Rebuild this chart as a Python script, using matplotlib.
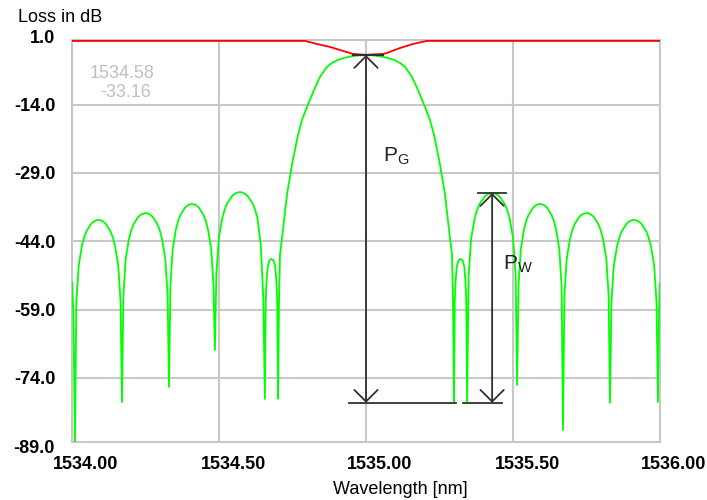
import matplotlib
matplotlib.use("Agg")
import matplotlib.pyplot as plt
import matplotlib.transforms as mtransforms
import numpy as np

# measured transmission spectrum (green), wavelength in nm, loss in dB
wavelength_nm = [
    1534.000, 1534.005, 1534.010,
    1534.0148, 1534.0228, 1534.034, 1534.042, 1534.050, 1534.066, 1534.0772, 1534.090,
    1534.1028, 1534.114, 1534.130, 1534.138, 1534.146, 1534.1572, 1534.1652,
    1534.170,
    1534.1748, 1534.1828, 1534.194, 1534.202, 1534.210, 1534.226, 1534.2372, 1534.250,
    1534.2628, 1534.274, 1534.290, 1534.298, 1534.306, 1534.3172, 1534.3252,
    1534.330,
    1534.3347, 1534.3425, 1534.3534, 1534.3612, 1534.369, 1534.3846, 1534.3955, 1534.408,
    1534.4205, 1534.4314, 1534.447, 1534.4548, 1534.4626, 1534.4735, 1534.4813,
    1534.486,
    1534.4911, 1534.4996, 1534.5115, 1534.520, 1534.5285, 1534.5455, 1534.5574, 1534.571,
    1534.5846, 1534.5965, 1534.6135, 1534.622, 1534.6305, 1534.6424, 1534.6509,
    1534.656,
    1534.659, 1534.662, 1534.666, 1534.6715, 1534.6785, 1534.6855, 1534.691, 1534.695, 1534.698,
    1534.701,
    1534.704, 1534.7074, 1534.7176, 1534.7312, 1534.7482, 1534.7686, 1534.7822, 1534.7993,
    1534.8231, 1534.8435, 1534.8673, 1534.8843, 1534.9047, 1534.9251, 1534.949, 1534.9728,
    1535.000,
    1535.0272, 1535.051, 1535.0749, 1535.0953, 1535.1157, 1535.1327, 1535.1565, 1535.1769,
    1535.2007, 1535.2178, 1535.2314, 1535.2518, 1535.2688, 1535.2824, 1535.2926, 1535.296,
    1535.299,
    1535.302, 1535.305, 1535.309, 1535.3145, 1535.3215, 1535.3285, 1535.334, 1535.338, 1535.341,
    1535.344,
    1535.3491, 1535.3576, 1535.3695, 1535.378, 1535.3865, 1535.4035, 1535.4154, 1535.429,
    1535.4426, 1535.4545, 1535.4715, 1535.480, 1535.4885, 1535.5004, 1535.5089,
    1535.514,
    1535.5187, 1535.5265, 1535.5374, 1535.5452, 1535.553, 1535.5686, 1535.5795, 1535.592,
    1535.6045, 1535.6154, 1535.631, 1535.6388, 1535.6466, 1535.6575, 1535.6653,
    1535.670,
    1535.6748, 1535.6828, 1535.694, 1535.702, 1535.710, 1535.726, 1535.7372, 1535.750,
    1535.7628, 1535.774, 1535.790, 1535.798, 1535.806, 1535.8172, 1535.8252,
    1535.830,
    1535.8349, 1535.843, 1535.8545, 1535.8626, 1535.8708, 1535.887, 1535.8985, 1535.9115,
    1535.9245, 1535.936, 1535.9523, 1535.9604, 1535.9686, 1535.980, 1535.9881,
    1535.993,
    1535.9965, 1536.000,
]
loss_db = [
    -53.0, -60.0, -88.5,
    -57.3, -49.3, -44.9, -43.0, -41.7, -40.1, -39.52, -39.3,
    -39.52, -40.1, -41.7, -43.0, -44.9, -49.3, -57.3,
    -79.3,
    -55.8, -47.8, -43.4, -41.5, -40.2, -38.6, -38.02, -37.8,
    -38.02, -38.6, -40.2, -41.5, -43.4, -47.8, -55.8,
    -76.0,
    -53.8, -45.8, -41.4, -39.5, -38.2, -36.6, -36.02, -35.8,
    -36.02, -36.6, -38.2, -39.5, -41.4, -45.8, -53.8,
    -67.9,
    -51.2, -43.2, -38.8, -36.9, -35.6, -34.0, -33.42, -33.2,
    -33.42, -34.0, -35.6, -36.9, -38.8, -45.0, -57.0,
    -78.6,
    -57.0, -52.5, -49.5, -48.2, -47.9, -48.2, -49.5, -52.5, -57.0,
    -78.6,
    -57.5, -47.0, -41.5, -33.8, -27.2, -20.65, -17.4, -14.5,
    -10.8, -7.9, -5.7, -4.84, -4.18, -3.74, -3.41, -3.17,
    -3.08,
    -3.17, -3.41, -3.74, -4.18, -4.84, -5.7, -7.9, -10.8,
    -14.5, -17.4, -20.65, -27.2, -33.8, -41.5, -47.0, -57.5,
    -79.3,
    -57.0, -52.5, -49.5, -48.2, -47.9, -48.2, -49.5, -52.5, -57.0,
    -79.3,
    -51.4, -43.4, -39.0, -37.1, -35.8, -34.2, -33.62, -33.4,
    -33.62, -34.2, -35.8, -37.1, -39.0, -43.4, -51.4,
    -75.6,
    -53.8, -45.8, -41.4, -39.5, -38.2, -36.6, -36.02, -35.8,
    -36.02, -36.6, -38.2, -39.5, -41.4, -45.8, -53.8,
    -85.5,
    -55.8, -47.8, -43.4, -41.5, -40.2, -38.6, -38.02, -37.8,
    -38.02, -38.6, -40.2, -41.5, -43.4, -47.8, -55.8,
    -79.5,
    -57.3, -49.3, -44.9, -43.0, -41.7, -40.1, -39.52, -39.3,
    -39.52, -40.1, -41.7, -43.0, -44.9, -49.3, -57.3,
    -79.3,
    -60.0, -53.2,
]

# reference trace (red)
ref_wavelength_nm = [1534.0, 1534.793, 1534.833, 1534.878, 1534.922, 1534.956, 1535.0,
                     1535.058, 1535.071, 1535.116, 1535.160, 1535.207, 1536.0]
ref_loss_db = [0.0, 0.0, -0.67, -1.33, -2.21, -2.86, -3.08,
               -2.86, -2.65, -1.55, -0.67, 0.0, 0.0]

x_ticks = [1534.0, 1534.5, 1535.0, 1535.5, 1536.0]
x_tick_labels = ["1534.00", "1534.50", "1535.00", "1535.50", "1536.00"]
y_ticks = [1.0, -14.0, -29.0, -44.0, -59.0, -74.0, -89.0]
y_tick_labels = ["1.0", "-14.0", "-29.0", "-44.0", "-59.0", "-74.0", "-89.0"]
floor_db = -79.5   # common bottom level of both markers
cursor_text = ["1534.58", "-33.16"]

plt.rcParams['font.family'] = ['Liberation Sans', 'DejaVu Sans']
plt.rcParams['mathtext.fontset'] = 'custom'
plt.rcParams['mathtext.rm'] = 'Open Sans'

fig = plt.figure(figsize=(7.07, 5.0), dpi=100)
ax = fig.add_axes([72 / 707, 1 - 442 / 500, 588 / 707, 402 / 500])

ax.plot(wavelength_nm, loss_db, color='#00ff00', lw=1.3, zorder=3)
ax.plot(ref_wavelength_nm, ref_loss_db, color='#ff0000', lw=1.3, zorder=4)

ax.set_xlim(1534.0, 1536.0)
ax.set_ylim(-88.1, 0.2)

grid_c = '#c8c8c8'
for s in ax.spines.values():
    s.set_color(grid_c)
    s.set_linewidth(1.5)
ax.set_xticks(x_ticks)
ax.set_xticklabels(x_tick_labels, fontsize=13, fontweight='bold')
inner = [t for t in y_ticks if -88.1 < t < 0.2]
ax.set_yticks(inner)
ax.set_yticklabels([y_tick_labels[y_ticks.index(t)] for t in inner], fontsize=13, fontweight='bold')
ax.tick_params(axis='both', length=0)
ax.tick_params(axis='y', pad=12)
ax.tick_params(axis='x', pad=10)
ax.grid(True, color=grid_c, lw=1.5, zorder=0)

# labels are offset to the right of their grid lines in the original
shift = mtransforms.ScaledTranslation(14 / 100, 0, fig.dpi_scale_trans)
for lab in ax.get_xticklabels():
    lab.set_transform(lab.get_transform() + shift)

# end labels sit just outside the drawn range
down = mtransforms.ScaledTranslation(0, -2 / 100, fig.dpi_scale_trans)
ylab_tr = mtransforms.blended_transform_factory(ax.transAxes, ax.transData) + down
for t in (y_ticks[0], y_ticks[-1]):
    ax.text(-17 / 588, t, y_tick_labels[y_ticks.index(t)], transform=ylab_tr, ha='right', va='center',
            fontsize=13, fontweight='bold', clip_on=False)

fig.text(18 / 707, 1 - 17 / 500, "Loss in dB", fontsize=13, ha='left', va='center')
fig.text(400 / 707, 11 / 500, "Wavelength [nm]", fontsize=13, ha='center', va='center')

ax.text(1534.169, -7.26, cursor_text[0], color='#c0c0c0', fontsize=13, ha='center', va='center')
ax.text(1534.184, -11.4, cursor_text[1], color='#c0c0c0', fontsize=13, ha='center', va='center')

# markers P_G and P_W
wl = np.array(wavelength_nm)
ld = np.array(loss_db)
i_g = int(np.argmax(ld))
right = wl > 1535.34
i_w = int(np.argmax(np.where(right, ld, -999)))
xg, yg = wl[i_g], ld[i_g]
xw, yw = wl[i_w], ld[i_w]

arrow_c = '#303030'
astyle = dict(arrowstyle='<->,head_length=0.6,head_width=0.6', color=arrow_c, lw=1.3,
              shrinkA=0, shrinkB=0, mutation_scale=14)
ax.annotate('', xy=(xg, yg), xytext=(xg, floor_db), arrowprops=astyle, zorder=5)
ax.annotate('', xy=(xw, yw), xytext=(xw, floor_db), arrowprops=astyle, zorder=5)
ax.plot([xg - 0.044, xg + 0.058], [yg, yg], color=arrow_c, lw=1.6, zorder=5)
ax.plot([xg - 0.058, xg + 0.306], [floor_db, floor_db], color=arrow_c, lw=1.3, zorder=5)
ax.plot([xw - 0.098, xw + 0.034], [floor_db, floor_db], color=arrow_c, lw=1.3, zorder=5)
ax.plot([xw - 0.047, xw + 0.048], [yw, yw], color=arrow_c, lw=1.3, zorder=5)

ax.text(xg + 0.058, -26.6, r'$\mathregular{P_G}$', fontsize=15, color='#202020', va='baseline')
ax.text(xw + 0.038, -50.3, r'$\mathregular{P_W}$', fontsize=15, color='#202020', va='baseline')

fig.savefig("out.png", dpi=100)
